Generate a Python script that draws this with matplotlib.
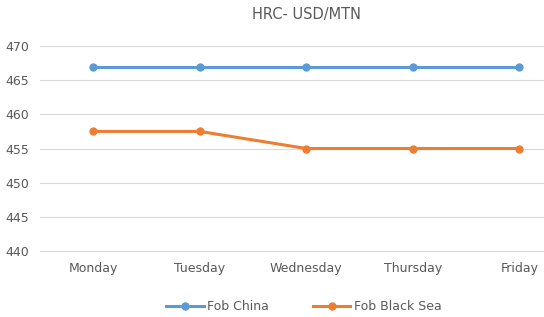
import matplotlib.pyplot as plt
from matplotlib.lines import Line2D

days = ['Monday', 'Tuesday', 'Wednesday', 'Thursday', 'Friday']
fob_china = [467, 467, 467, 467, 467]
fob_black_sea = [457.5, 457.5, 455, 455, 455]
yticks = [440, 445, 450, 455, 460, 465, 470]

fig = plt.figure(figsize=(5.44, 3.17), dpi=100)
ax = fig.add_axes([40/544, 1 - 251/317, 1 - 40/544, 205/317])

x = list(range(len(days)))
ax.plot(x, fob_china, color='#5B9BD5', lw=2.2, marker='o', ms=5, zorder=3)
ax.plot(x, fob_black_sea, color='#ED7D31', lw=2.2, marker='o', ms=5, zorder=3)

ax.set_xlim(-0.5, 4.5 - 28.5/106.5)
ax.set_ylim(440, 470)
ax.set_yticks(yticks)
ax.set_xticks(x)
ax.set_xticklabels(days)
ax.grid(axis='y', color='#D9D9D9', lw=0.8)
ax.set_axisbelow(True)
for s in ['top', 'left', 'right']:
    ax.spines[s].set_visible(False)
ax.spines['bottom'].set_color('#D9D9D9')
ax.spines['bottom'].set_linewidth(0.8)
ax.tick_params(length=0, colors='#595959', labelsize=9)
ax.tick_params(axis='x', pad=8)
ax.tick_params(axis='y', pad=8)

fig.text(306/544, 1 - 14/317, 'HRC- USD/MTN', ha='center', va='center',
         fontsize=10.5, color='#595959')

handles = [Line2D([], [], color='#5B9BD5', lw=2.2, marker='o', ms=5),
           Line2D([], [], color='#ED7D31', lw=2.2, marker='o', ms=5)]
fig.legend(handles, ['Fob China', 'Fob Black Sea'], loc='center',
           bbox_to_anchor=(304/544, 1 - 307/317), ncol=2, frameon=False,
           fontsize=9, labelcolor='#595959', handlelength=3, columnspacing=3.5,
           handletextpad=0.3)

fig.savefig('out.png', dpi=100)
